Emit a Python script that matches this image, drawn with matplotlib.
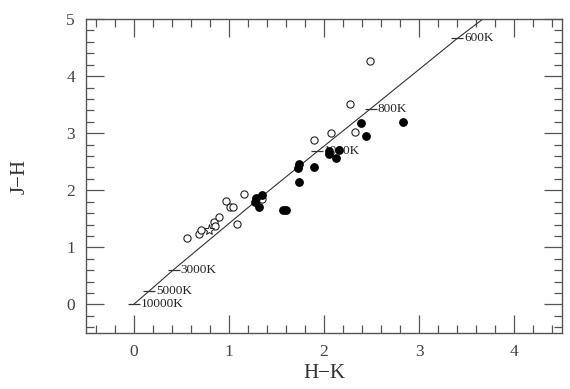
import matplotlib
matplotlib.use("Agg")
import matplotlib.pyplot as plt
from matplotlib.ticker import MultipleLocator

# Blackbody colour track
bb_hk = [0.0, 0.16, 0.42, 1.19, 1.93, 2.49, 3.40, 3.67]
bb_jh = [0.0, 0.23, 0.61, 1.68, 2.68, 3.43, 4.66, 5.00]

# Temperature marks along the track
temp_hk = [0.0, 0.16, 0.42, 1.93, 2.49, 3.40]
temp_jh = [0.0, 0.23, 0.61, 2.68, 3.43, 4.66]
temp_labels = ["10000K", "5000K", "3000K", "1000K", "800K", "600K"]

# Open circles
open_hk = [0.56, 0.69, 0.71, 0.84, 0.86, 0.90, 0.97, 1.01, 1.04, 1.09, 1.16,
           1.35, 1.90, 2.07, 2.33, 2.27, 2.48]
open_jh = [1.17, 1.24, 1.30, 1.45, 1.37, 1.53, 1.81, 1.71, 1.71, 1.41, 1.94,
           1.84, 2.88, 3.00, 3.03, 3.51, 4.26]

# Open star
star_hk = [0.79]
star_jh = [1.30]

# Filled circles
filled_hk = [1.29, 1.28, 1.35, 1.32, 1.57, 1.60, 1.74, 1.73, 1.74, 1.89, 2.05,
             2.05, 2.16, 2.13, 2.39, 2.44, 2.83]
filled_jh = [1.86, 1.80, 1.91, 1.71, 1.66, 1.66, 2.46, 2.39, 2.14, 2.41, 2.69,
             2.63, 2.70, 2.57, 3.18, 2.95, 3.19]

xticks = [0, 1, 2, 3, 4]
yticks = [0, 1, 2, 3, 4, 5]

fig = plt.figure(figsize=(5.7, 3.89), dpi=100)
ax = fig.add_axes([0.1509, 0.144, 0.835, 0.807])

ax.plot(bb_hk, bb_jh, color="#333333", lw=0.8, zorder=2)
ax.plot(temp_hk, temp_jh, linestyle="none", marker="_", markersize=8,
        markeredgewidth=0.9, color="#333333", zorder=2)
for x, y, t in zip(temp_hk, temp_jh, temp_labels):
    ax.annotate(t, (x, y), xytext=(5, 0), textcoords="offset points",
                ha="left", va="center", fontsize=9.5, family="Liberation Serif",
                color="#222222", zorder=3)

ax.plot(open_hk, open_jh, linestyle="none", marker="o", markersize=5.2,
        markerfacecolor="white", markeredgecolor="#222222", markeredgewidth=0.8,
        zorder=4)
ax.plot(star_hk, star_jh, linestyle="none", marker="*", markersize=8,
        markerfacecolor="white", markeredgecolor="#222222", markeredgewidth=0.7,
        zorder=4)
ax.plot(filled_hk, filled_jh, linestyle="none", marker="o", markersize=5.3,
        color="black", zorder=5)

ax.set_xlim(-0.5, 4.5)
ax.set_ylim(-0.5, 5.0)
ax.set_xticks(xticks)
ax.set_yticks(yticks)
ax.xaxis.set_minor_locator(MultipleLocator(0.2))
ax.yaxis.set_minor_locator(MultipleLocator(0.2))
ax.tick_params(which="both", direction="in", top=True, right=True,
               color="#555555", width=0.9)
ax.tick_params(which="major", length=13, pad=8, labelsize=12.5,
               labelcolor="#444444")
ax.tick_params(which="minor", length=5.5)
for lab in ax.get_xticklabels() + ax.get_yticklabels():
    lab.set_family("Liberation Serif")
for s in ax.spines.values():
    s.set_color("#555555")
    s.set_linewidth(1.0)

ax.set_xlabel("H\u2212K", fontsize=15, family="Liberation Serif",
              color="#333333", labelpad=3)
ax.set_ylabel("J\u2212H", fontsize=15, family="Liberation Serif",
              color="#333333", labelpad=26)

fig.savefig("out.png", dpi=100)
